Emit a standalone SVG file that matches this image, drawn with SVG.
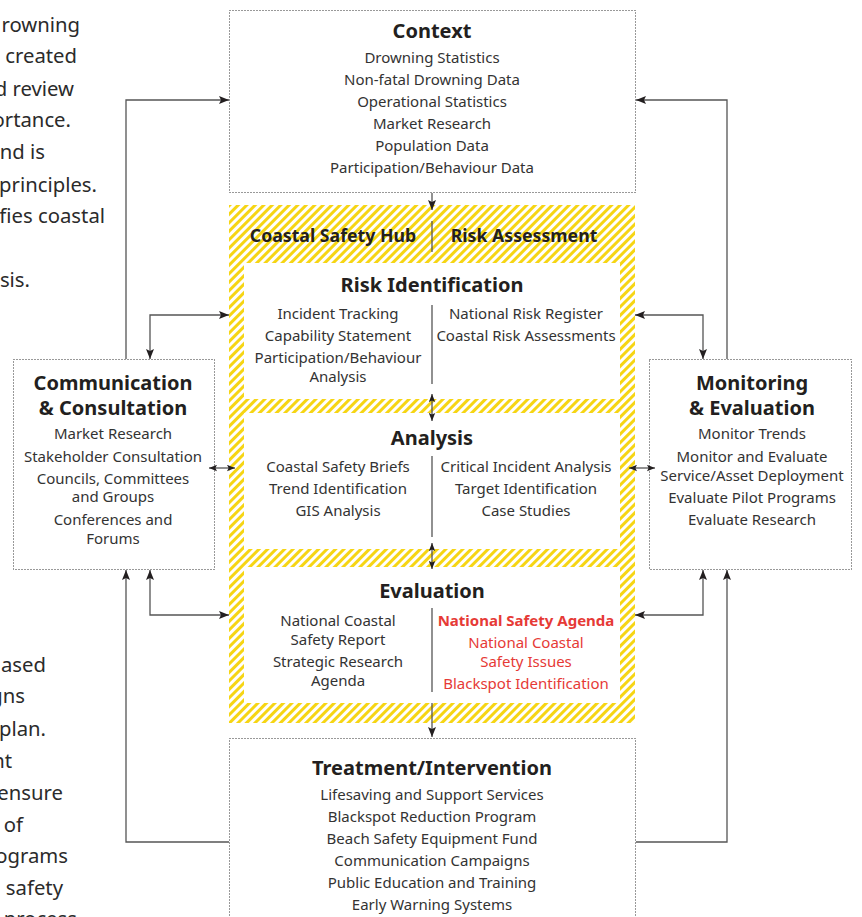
<svg xmlns="http://www.w3.org/2000/svg" width="862" height="917" viewBox="0 0 862 917">
<style>
  .frag{font-family:"Noto Sans","Liberation Sans",sans-serif;font-size:20.3px;fill:#2b2b2b;text-anchor:end}
  .h{font-family:"Noto Sans","Liberation Sans",sans-serif;font-weight:bold;font-size:20px;fill:#231f20;text-anchor:middle}
  .hs{font-family:"Noto Sans","Liberation Sans",sans-serif;font-weight:bold;font-size:17.7px;fill:#231f20;text-anchor:middle}
  .t{font-family:"Noto Sans","Liberation Sans",sans-serif;font-size:15px;fill:#333;text-anchor:middle}
  .red{fill:#e63a36}
  .rb{font-weight:bold}
  .box{fill:#fff;stroke:#333;stroke-width:1;stroke-dasharray:1 2}
  .panel{fill:#fff}
  .div{stroke:#555;stroke-width:1.3}
  .c{fill:none;stroke:#555;stroke-width:1.3}
</style>
<defs>
  <pattern id="hatch" width="6" height="6" patternUnits="userSpaceOnUse" patternTransform="rotate(45)">
    <rect width="6" height="6" fill="#fff"/>
    <rect width="3" height="6" fill="#f6d514"/>
  </pattern>
  <marker id="ah" viewBox="0 0 10 8" markerWidth="10" markerHeight="8" refX="10" refY="4" orient="auto-start-reverse" markerUnits="userSpaceOnUse">
    <path d="M0,0 L10,4 L0,8 L2,4 z" fill="#231f20"/>
  </marker>
  <marker id="as" viewBox="0 0 10 8" markerWidth="8" markerHeight="7" refX="10" refY="4" orient="auto-start-reverse" markerUnits="userSpaceOnUse">
    <path d="M0,0 L10,4 L0,8 L2,4 z" fill="#231f20"/>
  </marker>
</defs>
<rect width="862" height="917" fill="#fff"/>

<g id="fragments-top">
  <text class="frag" x="80" y="32">rowning</text>
  <text class="frag" x="77" y="63">created</text>
  <text class="frag" x="74" y="96">d review</text>
  <text class="frag" x="71" y="127">ortance.</text>
  <text class="frag" x="45" y="159">nd is</text>
  <text class="frag" x="97" y="192">principles.</text>
  <text class="frag" x="105" y="223">fies coastal</text>
  <text class="frag" x="30" y="287">sis.</text>
</g>
<g id="fragments-bottom">
  <text class="frag" x="46" y="672">ased</text>
  <text class="frag" x="25" y="703">gns</text>
  <text class="frag" x="46" y="736">plan.</text>
  <text class="frag" x="12" y="768">nt</text>
  <text class="frag" x="63" y="800">ensure</text>
  <text class="frag" x="23" y="832">of</text>
  <text class="frag" x="68" y="863">ograms</text>
  <text class="frag" x="63" y="895">safety</text>
  <text class="frag" x="77" y="926">process</text>
</g>

<g id="context">
  <rect class="box" x="229.5" y="10.5" width="406" height="182"/>
  <text class="h" x="432" y="38">Context</text>
  <text class="t" x="432" y="63">Drowning Statistics</text>
  <text class="t" x="432" y="85">Non-fatal Drowning Data</text>
  <text class="t" x="432" y="107">Operational Statistics</text>
  <text class="t" x="432" y="129">Market Research</text>
  <text class="t" x="432" y="151">Population Data</text>
  <text class="t" x="432" y="173">Participation/Behaviour Data</text>
</g>

<g id="hub">
  <rect x="229" y="205" width="406" height="518" fill="url(#hatch)"/>
  <text class="hs" x="333" y="242">Coastal Safety Hub</text>
  <line class="div" x1="432" y1="221" x2="432" y2="252"/>
  <text class="hs" x="524" y="242">Risk Assessment</text>
</g>

<g id="risk-identification">
  <rect class="panel" x="244" y="263" width="376" height="136"/>
  <text class="h" x="432" y="292">Risk Identification</text>
  <line class="div" x1="432" y1="305" x2="432" y2="384"/>
  <text class="t" x="338" y="319">Incident Tracking</text>
  <text class="t" x="338" y="341">Capability Statement</text>
  <text class="t" x="338" y="363">Participation/Behaviour</text>
  <text class="t" x="338" y="382">Analysis</text>
  <text class="t" x="526" y="319">National Risk Register</text>
  <text class="t" x="526" y="341">Coastal Risk Assessments</text>
</g>

<g id="analysis">
  <rect class="panel" x="244" y="413" width="376" height="136"/>
  <text class="h" x="432" y="445">Analysis</text>
  <line class="div" x1="432" y1="456" x2="432" y2="537"/>
  <text class="t" x="338" y="472">Coastal Safety Briefs</text>
  <text class="t" x="338" y="494">Trend Identification</text>
  <text class="t" x="338" y="516">GIS Analysis</text>
  <text class="t" x="526" y="472">Critical Incident Analysis</text>
  <text class="t" x="526" y="494">Target Identification</text>
  <text class="t" x="526" y="516">Case Studies</text>
</g>

<g id="evaluation">
  <rect class="panel" x="244" y="567" width="376" height="136"/>
  <text class="h" x="432" y="598">Evaluation</text>
  <line class="div" x1="432" y1="608" x2="432" y2="692"/>
  <text class="t" x="338" y="626">National Coastal</text>
  <text class="t" x="338" y="645">Safety Report</text>
  <text class="t" x="338" y="667">Strategic Research</text>
  <text class="t" x="338" y="686">Agenda</text>
  <text class="t red rb" x="526" y="626">National Safety Agenda</text>
  <text class="t red" x="526" y="648">National Coastal</text>
  <text class="t red" x="526" y="667">Safety Issues</text>
  <text class="t red" x="526" y="689">Blackspot Identification</text>
</g>

<g id="treatment">
  <rect class="box" x="229.5" y="738.5" width="406" height="200"/>
  <text class="h" x="432" y="775">Treatment/Intervention</text>
  <text class="t" x="432" y="800">Lifesaving and Support Services</text>
  <text class="t" x="432" y="822">Blackspot Reduction Program</text>
  <text class="t" x="432" y="844">Beach Safety Equipment Fund</text>
  <text class="t" x="432" y="866">Communication Campaigns</text>
  <text class="t" x="432" y="888">Public Education and Training</text>
  <text class="t" x="432" y="910">Early Warning Systems</text>
</g>

<g id="communication">
  <rect class="box" x="13.5" y="359.5" width="201" height="210"/>
  <text class="h" x="113" y="390">Communication</text>
  <text class="h" x="113" y="415">&amp; Consultation</text>
  <text class="t" x="113" y="439">Market Research</text>
  <text class="t" x="113" y="462">Stakeholder Consultation</text>
  <text class="t" x="113" y="484">Councils, Committees</text>
  <text class="t" x="113" y="502">and Groups</text>
  <text class="t" x="113" y="525">Conferences and</text>
  <text class="t" x="113" y="544">Forums</text>
</g>

<g id="monitoring">
  <rect class="box" x="649.5" y="359.5" width="202" height="210"/>
  <text class="h" x="752" y="390">Monitoring</text>
  <text class="h" x="752" y="415">&amp; Evaluation</text>
  <text class="t" x="752" y="439">Monitor Trends</text>
  <text class="t" x="752" y="462">Monitor and Evaluate</text>
  <text class="t" x="752" y="481">Service/Asset Deployment</text>
  <text class="t" x="752" y="503">Evaluate Pilot Programs</text>
  <text class="t" x="752" y="525">Evaluate Research</text>
</g>

<g id="connectors">
  <path class="c" d="M432,193 V210" marker-end="url(#ah)"/>
  <path class="c" d="M432,394 V421" marker-start="url(#as)" marker-end="url(#as)"/>
  <path class="c" d="M432,543 V569" marker-start="url(#as)" marker-end="url(#as)"/>
  <path class="c" d="M432,703 V737" marker-end="url(#ah)"/>

  <path class="c" d="M126,359 V100 H229" marker-end="url(#ah)"/>
  <path class="c" d="M229,315 H150 V359" marker-start="url(#ah)" marker-end="url(#ah)"/>
  <path class="c" d="M209,468 H235" marker-start="url(#as)" marker-end="url(#as)"/>
  <path class="c" d="M229,842 H126 V570" marker-end="url(#ah)"/>
  <path class="c" d="M229,615 H150 V570" marker-start="url(#ah)" marker-end="url(#ah)"/>

  <path class="c" d="M727,359 V100 H636" marker-end="url(#ah)"/>
  <path class="c" d="M635,315 H703 V359" marker-start="url(#ah)" marker-end="url(#ah)"/>
  <path class="c" d="M629,468 H655" marker-start="url(#as)" marker-end="url(#as)"/>
  <path class="c" d="M636,842 H727 V570" marker-end="url(#ah)"/>
  <path class="c" d="M635,615 H703 V570" marker-start="url(#ah)" marker-end="url(#ah)"/>
</g>
</svg>
